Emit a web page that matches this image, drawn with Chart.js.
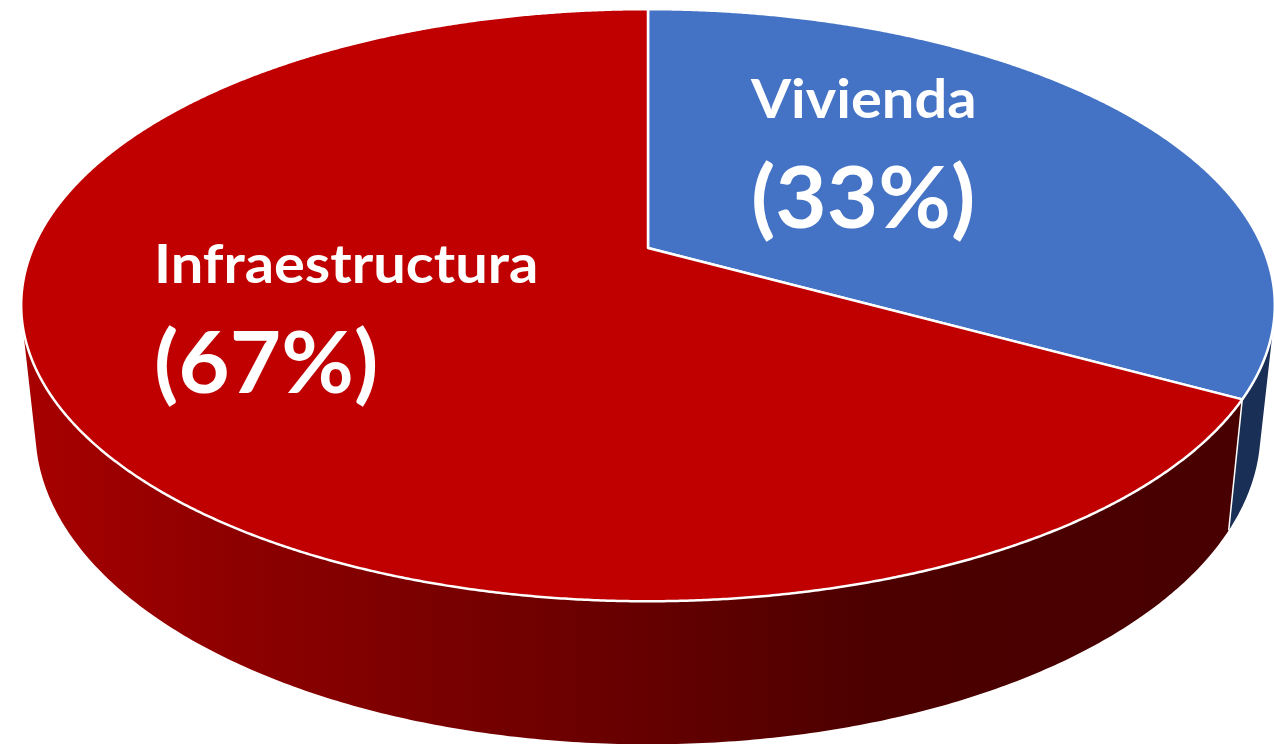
<!DOCTYPE html>
<html>
<head>
<meta charset="utf-8">
<script src="https://cdn.jsdelivr.net/npm/chart.js@4"></script>
<style>
    html, body { margin: 0; padding: 0; background: #ffffff; overflow: hidden; }
    canvas { display: block; filter: blur(0.5px); }
</style>
</head>
<body>
<canvas id="myChart" width="1274" height="744"></canvas>
<script>
//--------------------- Data
var categories = ["Vivienda", "Infraestructura"]
var shares = [33, 67]

//--------------------- Look of the chart
var topColors = ["#4472c4", "#c00000"]
var wallColors = ["#1a2f55", null]

//Perspective of the top face and of the lower rim, fitted on the picture
var perspective = 0.1932
var centerX = 648
var topRim = { a: 615, b: 285, y: 248 }
var lowRim = { a: 601, b: 302, y: 370 }

//Where each label goes, and the size of its two lines
var labelSpots = [
    { x: 751, nameY: 118, shareY: 228, nameSize: 53, shareSize: 87 },
    { x: 154, nameY: 283, shareY: 393, nameSize: 53, shareSize: 87 }
]
var nameStretch = 1.09
var shareStretch = 1.02

//--------------------- Functions

//Turns an angle on the pie into a point on one of the rims
function project(rim, angle) {
    var u = Math.sin(angle)
    var v = -Math.cos(angle)
    var w = 1 - perspective * v
    return { x: centerX + rim.a * u / w, y: rim.y + rim.b * v / w }
}

//Angles of a slice, measured from the top of the pie
function sliceAngles(arc) {
    var props = arc.getProps(["startAngle", "endAngle"], true)
    return { from: props.startAngle + Math.PI / 2, to: props.endAngle + Math.PI / 2 }
}

//The red wall gets darker from left to right
function redWall(ctx) {
    var gradient = ctx.createLinearGradient(22, 0, 1274, 0)
    gradient.addColorStop(0, "#a80000")
    gradient.addColorStop(0.15, "#900000")
    gradient.addColorStop(0.5, "#650000")
    gradient.addColorStop(0.68, "#4c0000")
    gradient.addColorStop(1, "#480000")
    return gradient
}

//All the strips go in one path with the same winding, so no seams show
function drawWall(ctx, arc, paint) {
    var range = sliceAngles(arc)
    var step = Math.PI / 360
    ctx.beginPath()
    for (var t = range.from; t < range.to; t += step) {
        var next = Math.min(t + step, range.to)
        var q = [project(topRim, t), project(topRim, next), project(lowRim, next), project(lowRim, t)]
        var area = 0
        for (var n = 0; n < 4; n++) {
            var m = (n + 1) % 4
            area += q[n].x * q[m].y - q[m].x * q[n].y
        }
        if (area < 0) {
            q.reverse()
        }
        ctx.moveTo(q[0].x, q[0].y)
        ctx.lineTo(q[1].x, q[1].y)
        ctx.lineTo(q[2].x, q[2].y)
        ctx.lineTo(q[3].x, q[3].y)
        ctx.closePath()
    }
    ctx.fillStyle = paint
    ctx.fill()
}

function drawDivider(ctx, angle) {
    var a = project(topRim, angle)
    var b = project(lowRim, angle)
    ctx.strokeStyle = "#ffffff"
    ctx.lineWidth = 1.5
    ctx.beginPath()
    ctx.moveTo(a.x, a.y)
    ctx.lineTo(b.x, b.y)
    ctx.stroke()
}

function drawTop(ctx, arc) {
    var range = sliceAngles(arc)
    ctx.beginPath()
    ctx.moveTo(centerX, topRim.y)
    for (var t = range.from; t < range.to; t += Math.PI / 720) {
        var p = project(topRim, t)
        ctx.lineTo(p.x, p.y)
    }
    var end = project(topRim, range.to)
    ctx.lineTo(end.x, end.y)
    ctx.closePath()
    ctx.fillStyle = arc.options.backgroundColor
    ctx.fill()
    ctx.strokeStyle = arc.options.borderColor
    ctx.lineWidth = arc.options.borderWidth
    ctx.lineJoin = "round"
    ctx.stroke()
}

function stretchedText(ctx, text, x, y, size, stretch) {
    ctx.save()
    ctx.translate(x, y)
    ctx.scale(stretch, 1)
    ctx.font = "bold " + size + "px Lato"
    ctx.fillText(text, 0, 0)
    ctx.restore()
}

function drawLabels(ctx) {
    ctx.fillStyle = "#ffffff"
    ctx.textAlign = "left"
    ctx.textBaseline = "alphabetic"
    for (var i = 0; i < categories.length; i++) {
        var spot = labelSpots[i]
        stretchedText(ctx, categories[i], spot.x, spot.nameY, spot.nameSize, nameStretch)
        stretchedText(ctx, "(" + shares[i] + "%)", spot.x, spot.shareY, spot.shareSize, shareStretch)
    }
}

//The library works out the slices, this plugin draws them tilted in 3D
var tiltedPie = {
    id: "tiltedPie",
    beforeDatasetsDraw: function (chart) {
        var ctx = chart.ctx
        var arcs = chart.getDatasetMeta(0).data
        ctx.save()
        for (var i = 0; i < arcs.length; i++) {
            drawWall(ctx, arcs[i], wallColors[i] || redWall(ctx))
        }
        for (var j = 0; j < arcs.length; j++) {
            drawDivider(ctx, sliceAngles(arcs[j]).to)
        }
        for (var k = 0; k < arcs.length; k++) {
            drawTop(ctx, arcs[k])
        }
        drawLabels(ctx)
        ctx.restore()
        return false
    }
}

//--------------------- Chart
var myChart = new Chart(document.getElementById("myChart"), {
    type: "pie",
    data: {
        labels: categories,
        datasets: [{
            data: shares,
            backgroundColor: topColors,
            borderColor: "#ffffff",
            borderWidth: 2.5
        }]
    },
    options: {
        animation: false,
        responsive: false,
        plugins: {
            legend: { display: false },
            tooltip: { enabled: false }
        }
    },
    plugins: [tiltedPie]
})
</script>
</body>
</html>
